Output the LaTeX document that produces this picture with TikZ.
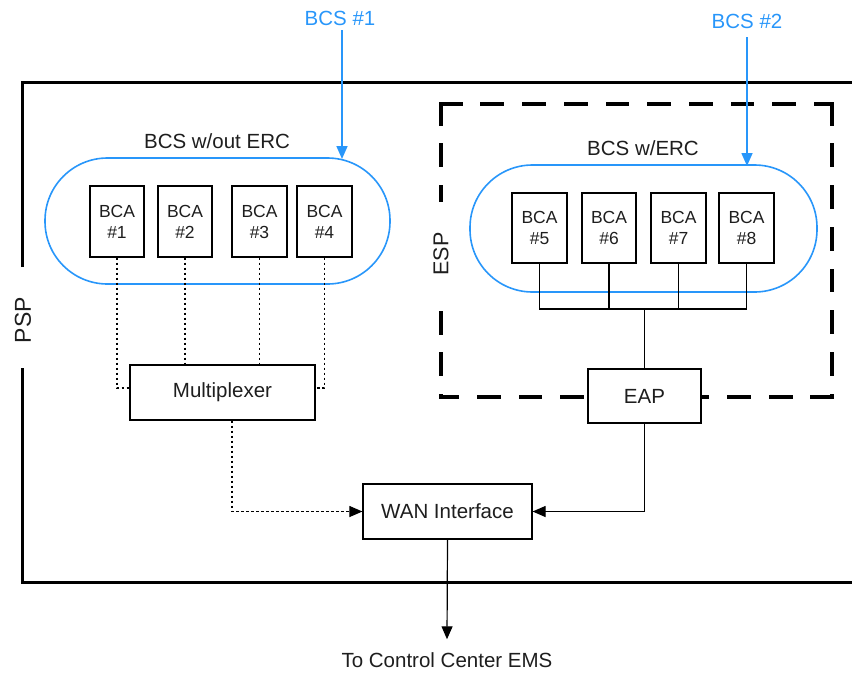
\documentclass[tikz,border=0pt]{standalone}
\usepackage{fontspec}
\setmainfont{Liberation Sans}
\usetikzlibrary{arrows.meta,calc}
\definecolor{bcsblue}{RGB}{40,150,250}
\definecolor{txt}{RGB}{30,30,30}
\begin{document}
\begin{tikzpicture}[x=1pt,y=-1pt,
  lbl/.style={text=txt,inner sep=0pt,font=\fontsize{20.5}{24}\selectfont},
  boxnode/.style={draw,line width=1.2pt,fill=white,inner sep=0pt,text=txt,font=\fontsize{20.5}{24}\selectfont},
  bca/.style={draw,line width=1.2pt,inner sep=0pt,minimum height=71pt,align=center,text=txt,font=\fontsize{17.5}{21}\selectfont},
  oval/.style={draw=bcsblue,line width=1.6pt,inner sep=0pt,rounded corners=62.5pt},
  dotline/.style={line width=1.1pt,dash pattern=on 2.5pt off 2.5pt},
  solidline/.style={line width=1.2pt},
  arr/.style={-{Triangle[length=13pt,width=11pt]}},
  bluearr/.style={draw=bcsblue,line width=1.6pt,-{Triangle[length=13pt,width=11pt]},color=bcsblue},
  pspline/.style={line width=3pt},
  espline/.style={line width=4.5pt,line cap=rect,dash pattern=on 19.3pt off 22.4pt}
]
\useasboundingbox (0,0) rectangle (852,673);

% PSP boundary
\draw[pspline] (22,267) -- (22,82) -- (856,82);
\draw[pspline] (22,368) -- (22,582) -- (856,582);
\node[lbl,rotate=90,font=\fontsize{23}{27}\selectfont] (psp) at (23,320) {PSP};

% ESP boundary
\draw[espline] (441,104) -- (832,104);
\draw[espline] (832,104) -- (832,397);
\draw[espline] (832,397) -- (441,397);
\draw[espline] (441,104) -- (441,200);
\draw[espline] (441,313) -- (441,397);
\node[lbl,rotate=90,font=\fontsize{21.5}{25}\selectfont] (esp) at (441,254) {ESP};

% BCS ovals
\node[oval,minimum width=345pt,minimum height=126pt] (ovl) at (217.5,221) {};
\node[oval,minimum width=347pt,minimum height=127pt] (ovr) at (643.5,228.5) {};
\node[lbl] (lblL) at (217,141) {BCS w/out ERC};
\node[lbl] (lblR) at (643,148) {BCS w/ERC};

% BCS labels and arrows
\node[lbl,text=bcsblue] (bcs1) at (340,18) {BCS \#1};
\node[lbl,text=bcsblue] (bcs2) at (747,21) {BCS \#2};
\coordinate (tip1) at (342,159);
\coordinate (tip2) at (747,166);
\draw[bluearr] ($(bcs1.south -| tip1)+(0,5)$) -- (tip1);
\draw[bluearr] ($(bcs2.south -| tip2)+(0,9)$) -- (tip2);

% BCA boxes
\node[bca,minimum width=54pt] (bca1) at (117,221.5) {BCA\\\#1};
\node[bca,minimum width=54pt] (bca2) at (185,221.5) {BCA\\\#2};
\node[bca,minimum width=55pt] (bca3) at (259.5,221.5) {BCA\\\#3};
\node[bca,minimum width=55pt] (bca4) at (324.5,221.5) {BCA\\\#4};
\node[bca,minimum width=55pt,minimum height=70pt] (bca5) at (539.5,228) {BCA\\\#5};
\node[bca,minimum width=54pt,minimum height=70pt] (bca6) at (609,228) {BCA\\\#6};
\node[bca,minimum width=55pt,minimum height=70pt] (bca7) at (678.5,228) {BCA\\\#7};
\node[bca,minimum width=55pt,minimum height=70pt] (bca8) at (746.5,228) {BCA\\\#8};

% Main boxes
\node[boxnode,minimum width=185pt,minimum height=55pt] (mux) at (222.5,392.5) {Multiplexer};
\node[boxnode,minimum width=113pt,minimum height=54pt] (eap) at (644.5,396) {EAP};
\node[boxnode,minimum width=169pt,minimum height=55pt] (wan) at (447.5,511.5) {WAN Interface};
\node[lbl] (ctrl) at (447,660) {To Control Center EMS};

% Dotted links to multiplexer
\draw[dotline] (bca1.south) |- ([yshift=4.5pt]mux.west);
\draw[dotline] (bca2.south) -- (bca2.south |- mux.north);
\draw[dotline] (bca3.south) -- (bca3.south |- mux.north);
\draw[dotline] (bca4.south) |- ([yshift=4.5pt]mux.east);
\draw[dotline,arr] ([xshift=9.5pt]mux.south) |- (wan.west);

% Bus to EAP
\coordinate (bus) at (644.5,309);
\draw[solidline] (bca5.south) |- (bus);
\draw[solidline] (bca8.south) |- (bus);
\draw[solidline] (bca6.south) -- (bca6.south |- bus);
\draw[solidline] (bca7.south) -- (bca7.south |- bus);
\draw[solidline] (bus) -- (eap.north);
\draw[solidline,arr] (eap.south) |- (wan.east);

% To control center
\draw[solidline,arr] (wan.south) -- ([yshift=13pt]ctrl.north);
\end{tikzpicture}
\end{document}
